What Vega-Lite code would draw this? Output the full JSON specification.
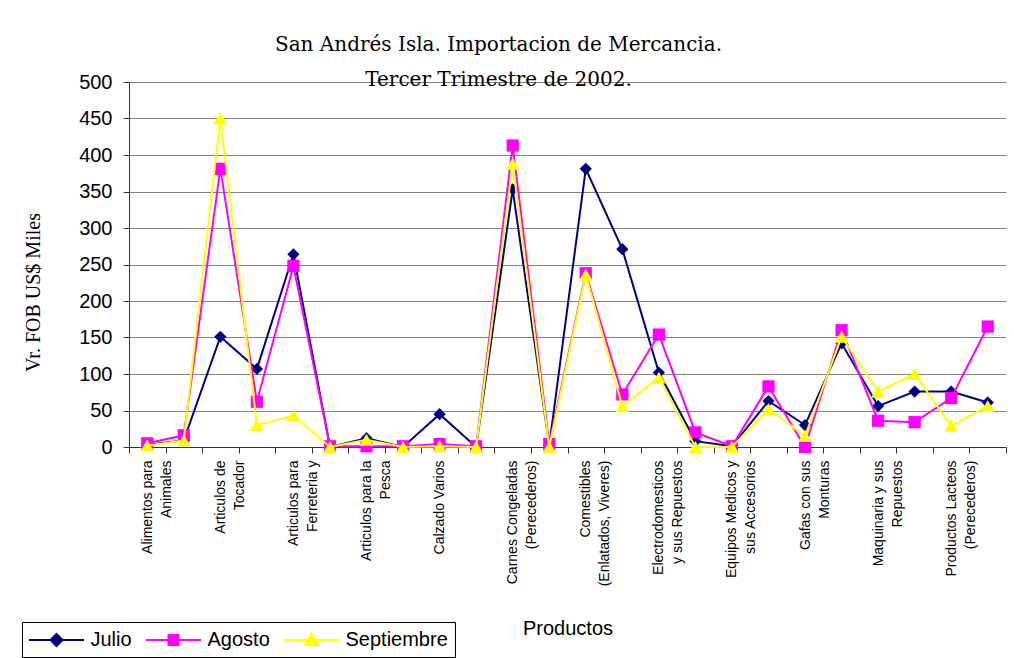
{
  "$schema": "https://vega.github.io/schema/vega-lite/v6.json",
  "autosize": {"type": "none"},
  "width": 877,
  "height": 365,
  "padding": {"left": 129, "top": 82, "right": 8, "bottom": 211},
  "background": "white",
  "title": {
    "text": ["San Andrés Isla. Importacion de Mercancia.", "Tercer Trimestre de 2002."],
    "font": "DejaVu Serif",
    "fontSize": 20,
    "fontWeight": "normal",
    "color": "black",
    "lineHeight": 35,
    "anchor": "middle",
    "dx": -69,
    "baseline": "bottom",
    "offset": -38
  },
  "config": {
    "view": {"stroke": null},
    "axis": {"labelColor": "black", "titleColor": "black"}
  },
  "data": {
    "values": [
      {"orden": 1, "producto": "Alimentos para\nAnimales", "serie": "Julio", "valor": 3},
      {"orden": 1, "producto": "Alimentos para\nAnimales", "serie": "Agosto", "valor": 5},
      {"orden": 1, "producto": "Alimentos para\nAnimales", "serie": "Septiembre", "valor": 2},
      {"orden": 2, "producto": "(sin rótulo 2)", "serie": "Julio", "valor": 9},
      {"orden": 2, "producto": "(sin rótulo 2)", "serie": "Agosto", "valor": 16},
      {"orden": 2, "producto": "(sin rótulo 2)", "serie": "Septiembre", "valor": 9},
      {"orden": 3, "producto": "Articulos de\nTocador", "serie": "Julio", "valor": 151},
      {"orden": 3, "producto": "Articulos de\nTocador", "serie": "Agosto", "valor": 381},
      {"orden": 3, "producto": "Articulos de\nTocador", "serie": "Septiembre", "valor": 450},
      {"orden": 4, "producto": "(sin rótulo 4)", "serie": "Julio", "valor": 107},
      {"orden": 4, "producto": "(sin rótulo 4)", "serie": "Agosto", "valor": 62},
      {"orden": 4, "producto": "(sin rótulo 4)", "serie": "Septiembre", "valor": 30},
      {"orden": 5, "producto": "Articulos para\nFerreteria y", "serie": "Julio", "valor": 264},
      {"orden": 5, "producto": "Articulos para\nFerreteria y", "serie": "Agosto", "valor": 248},
      {"orden": 5, "producto": "Articulos para\nFerreteria y", "serie": "Septiembre", "valor": 43},
      {"orden": 6, "producto": "(sin rótulo 6)", "serie": "Julio", "valor": 0},
      {"orden": 6, "producto": "(sin rótulo 6)", "serie": "Agosto", "valor": 1},
      {"orden": 6, "producto": "(sin rótulo 6)", "serie": "Septiembre", "valor": 0},
      {"orden": 7, "producto": "Articulos para la\nPesca", "serie": "Julio", "valor": 12},
      {"orden": 7, "producto": "Articulos para la\nPesca", "serie": "Agosto", "valor": 1},
      {"orden": 7, "producto": "Articulos para la\nPesca", "serie": "Septiembre", "valor": 10},
      {"orden": 8, "producto": "(sin rótulo 8)", "serie": "Julio", "valor": 0},
      {"orden": 8, "producto": "(sin rótulo 8)", "serie": "Agosto", "valor": 1},
      {"orden": 8, "producto": "(sin rótulo 8)", "serie": "Septiembre", "valor": 0},
      {"orden": 9, "producto": "Calzado Varios", "serie": "Julio", "valor": 45},
      {"orden": 9, "producto": "Calzado Varios", "serie": "Agosto", "valor": 4},
      {"orden": 9, "producto": "Calzado Varios", "serie": "Septiembre", "valor": 1},
      {"orden": 10, "producto": "(sin rótulo 10)", "serie": "Julio", "valor": 0},
      {"orden": 10, "producto": "(sin rótulo 10)", "serie": "Agosto", "valor": 1},
      {"orden": 10, "producto": "(sin rótulo 10)", "serie": "Septiembre", "valor": 0},
      {"orden": 11, "producto": "Carnes Congeladas\n(Perecederos)", "serie": "Julio", "valor": 353},
      {"orden": 11, "producto": "Carnes Congeladas\n(Perecederos)", "serie": "Agosto", "valor": 413},
      {"orden": 11, "producto": "Carnes Congeladas\n(Perecederos)", "serie": "Septiembre", "valor": 388},
      {"orden": 12, "producto": "(sin rótulo 12)", "serie": "Julio", "valor": 2},
      {"orden": 12, "producto": "(sin rótulo 12)", "serie": "Agosto", "valor": 4},
      {"orden": 12, "producto": "(sin rótulo 12)", "serie": "Septiembre", "valor": 0},
      {"orden": 13, "producto": "Comestibles\n(Enlatados, Viveres)", "serie": "Julio", "valor": 381},
      {"orden": 13, "producto": "Comestibles\n(Enlatados, Viveres)", "serie": "Agosto", "valor": 238},
      {"orden": 13, "producto": "Comestibles\n(Enlatados, Viveres)", "serie": "Septiembre", "valor": 236},
      {"orden": 14, "producto": "(sin rótulo 14)", "serie": "Julio", "valor": 271},
      {"orden": 14, "producto": "(sin rótulo 14)", "serie": "Agosto", "valor": 72},
      {"orden": 14, "producto": "(sin rótulo 14)", "serie": "Septiembre", "valor": 56},
      {"orden": 15, "producto": "Electrodomesticos\ny sus Repuestos", "serie": "Julio", "valor": 102},
      {"orden": 15, "producto": "Electrodomesticos\ny sus Repuestos", "serie": "Agosto", "valor": 154},
      {"orden": 15, "producto": "Electrodomesticos\ny sus Repuestos", "serie": "Septiembre", "valor": 95},
      {"orden": 16, "producto": "(sin rótulo 16)", "serie": "Julio", "valor": 8},
      {"orden": 16, "producto": "(sin rótulo 16)", "serie": "Agosto", "valor": 20},
      {"orden": 16, "producto": "(sin rótulo 16)", "serie": "Septiembre", "valor": 0},
      {"orden": 17, "producto": "Equipos Medicos y\nsus Accesorios", "serie": "Julio", "valor": 1},
      {"orden": 17, "producto": "Equipos Medicos y\nsus Accesorios", "serie": "Agosto", "valor": 1},
      {"orden": 17, "producto": "Equipos Medicos y\nsus Accesorios", "serie": "Septiembre", "valor": 0},
      {"orden": 18, "producto": "(sin rótulo 18)", "serie": "Julio", "valor": 63},
      {"orden": 18, "producto": "(sin rótulo 18)", "serie": "Agosto", "valor": 83},
      {"orden": 18, "producto": "(sin rótulo 18)", "serie": "Septiembre", "valor": 52},
      {"orden": 19, "producto": "Gafas con sus\nMonturas", "serie": "Julio", "valor": 30},
      {"orden": 19, "producto": "Gafas con sus\nMonturas", "serie": "Agosto", "valor": 0},
      {"orden": 19, "producto": "Gafas con sus\nMonturas", "serie": "Septiembre", "valor": 15},
      {"orden": 20, "producto": "(sin rótulo 20)", "serie": "Julio", "valor": 142},
      {"orden": 20, "producto": "(sin rótulo 20)", "serie": "Agosto", "valor": 160},
      {"orden": 20, "producto": "(sin rótulo 20)", "serie": "Septiembre", "valor": 151},
      {"orden": 21, "producto": "Maquinaria y sus\nRepuestos", "serie": "Julio", "valor": 56},
      {"orden": 21, "producto": "Maquinaria y sus\nRepuestos", "serie": "Agosto", "valor": 36},
      {"orden": 21, "producto": "Maquinaria y sus\nRepuestos", "serie": "Septiembre", "valor": 76},
      {"orden": 22, "producto": "(sin rótulo 22)", "serie": "Julio", "valor": 76},
      {"orden": 22, "producto": "(sin rótulo 22)", "serie": "Agosto", "valor": 34},
      {"orden": 22, "producto": "(sin rótulo 22)", "serie": "Septiembre", "valor": 100},
      {"orden": 23, "producto": "Productos Lacteos\n(Perecederos)", "serie": "Julio", "valor": 76},
      {"orden": 23, "producto": "Productos Lacteos\n(Perecederos)", "serie": "Agosto", "valor": 67},
      {"orden": 23, "producto": "Productos Lacteos\n(Perecederos)", "serie": "Septiembre", "valor": 29},
      {"orden": 24, "producto": "(sin rótulo 24)", "serie": "Julio", "valor": 61},
      {"orden": 24, "producto": "(sin rótulo 24)", "serie": "Agosto", "valor": 165},
      {"orden": 24, "producto": "(sin rótulo 24)", "serie": "Septiembre", "valor": 56}
    ]
  },
  "encoding": {
    "x": {
      "field": "producto",
      "type": "nominal",
      "sort": {"field": "orden", "op": "min"},
      "scale": {"type": "band", "paddingInner": 0, "paddingOuter": 0},
      "axis": {
        "title": "Productos",
        "titleFont": "Liberation Sans",
        "titleFontSize": 20,
        "titleFontWeight": "normal",
        "titleY": 181,
        "titleBaseline": "middle",
        "labelExpr": "indexof(datum.label, '(sin') == 0 ? '' : split(datum.label, '\\n')",
        "labelFont": "Liberation Sans",
        "labelFontSize": 14,
        "labelLineHeight": 19,
        "labelAngle": 270,
        "labelAlign": "right",
        "labelBaseline": "middle",
        "labelPadding": 7,
        "labelOverlap": false,
        "tickBand": "extent",
        "tickSize": 6,
        "tickColor": "#333333",
        "domainColor": "#333333",
        "grid": false
      }
    },
    "y": {
      "field": "valor",
      "type": "quantitative",
      "scale": {"domain": [0, 500], "nice": false},
      "axis": {
        "title": "Vr. FOB US$ Miles",
        "titleFont": "Liberation Serif",
        "titleFontSize": 20,
        "titleFontWeight": "normal",
        "titleAngle": 270,
        "titleX": -90,
        "titleY": 210,
        "titleAlign": "center",
        "titleBaseline": "alphabetic",
        "values": [0, 50, 100, 150, 200, 250, 300, 350, 400, 450, 500],
        "labelFont": "Liberation Sans",
        "labelFontSize": 20,
        "labelPadding": 11,
        "tickSize": 6,
        "tickColor": "#333333",
        "domainColor": "#333333",
        "grid": true,
        "gridColor": "#808080",
        "gridWidth": 1.2
      }
    }
  },
  "layer": [
    {
      "transform": [{"filter": "datum.serie == 'Julio'"}],
      "mark": {"type": "line", "color": "#000080", "strokeWidth": 2}
    },
    {
      "transform": [{"filter": "datum.serie == 'Julio'"}],
      "mark": {"type": "point", "filled": true, "shape": "diamond", "size": 150, "color": "#000080", "opacity": 1}
    },
    {
      "transform": [{"filter": "datum.serie == 'Agosto'"}],
      "mark": {"type": "line", "color": "#ff00ff", "strokeWidth": 2}
    },
    {
      "transform": [{"filter": "datum.serie == 'Agosto'"}],
      "mark": {"type": "point", "filled": true, "shape": "square", "size": 150, "color": "#ff00ff", "opacity": 1}
    },
    {
      "transform": [{"filter": "datum.serie == 'Septiembre'"}],
      "mark": {"type": "line", "color": "#ffff00", "strokeWidth": 2}
    },
    {
      "transform": [{"filter": "datum.serie == 'Septiembre'"}],
      "mark": {"type": "point", "filled": true, "shape": "triangle-up", "size": 190, "color": "#ffff00", "opacity": 1}
    },
    {
      "mark": {"type": "point", "filled": true, "size": 0, "opacity": 1},
      "encoding": {
        "fill": {
          "field": "serie", "type": "nominal",
          "scale": {"domain": ["Julio", "Agosto", "Septiembre"], "range": ["#000080", "#ff00ff", "#ffff00"]},
          "legend": {
            "title": null,
            "orient": "none",
            "legendX": -107,
            "legendY": 540,
            "direction": "horizontal",
            "strokeColor": "black",
            "fillColor": "white",
            "padding": 7,
            "labelFont": "Liberation Sans",
            "labelFontSize": 20,
            "labelColor": "black",
            "symbolSize": 400,
            "symbolOffset": 16.5,
            "symbolStrokeWidth": 2,
            "symbolOpacity": 1,
            "columnPadding": 10,
            "labelOffset": 23
          }
        },
        "stroke": {
          "field": "serie", "type": "nominal",
          "scale": {"domain": ["Julio", "Agosto", "Septiembre"], "range": ["#000080", "#ff00ff", "#ffff00"]}
        },
        "shape": {
          "field": "serie", "type": "nominal",
          "scale": {"domain": ["Julio", "Agosto", "Septiembre"], "range": [
            "M-2.75,0H2.75M0,-0.6L0.6,0L0,0.6L-0.6,0Z",
            "M-2.75,0H2.75M-0.5,-0.5H0.5V0.5H-0.5Z",
            "M-2.75,0H2.75M0,-0.62L0.7,0.5H-0.7Z"
          ]}
        }
      }
    }
  ]
}
